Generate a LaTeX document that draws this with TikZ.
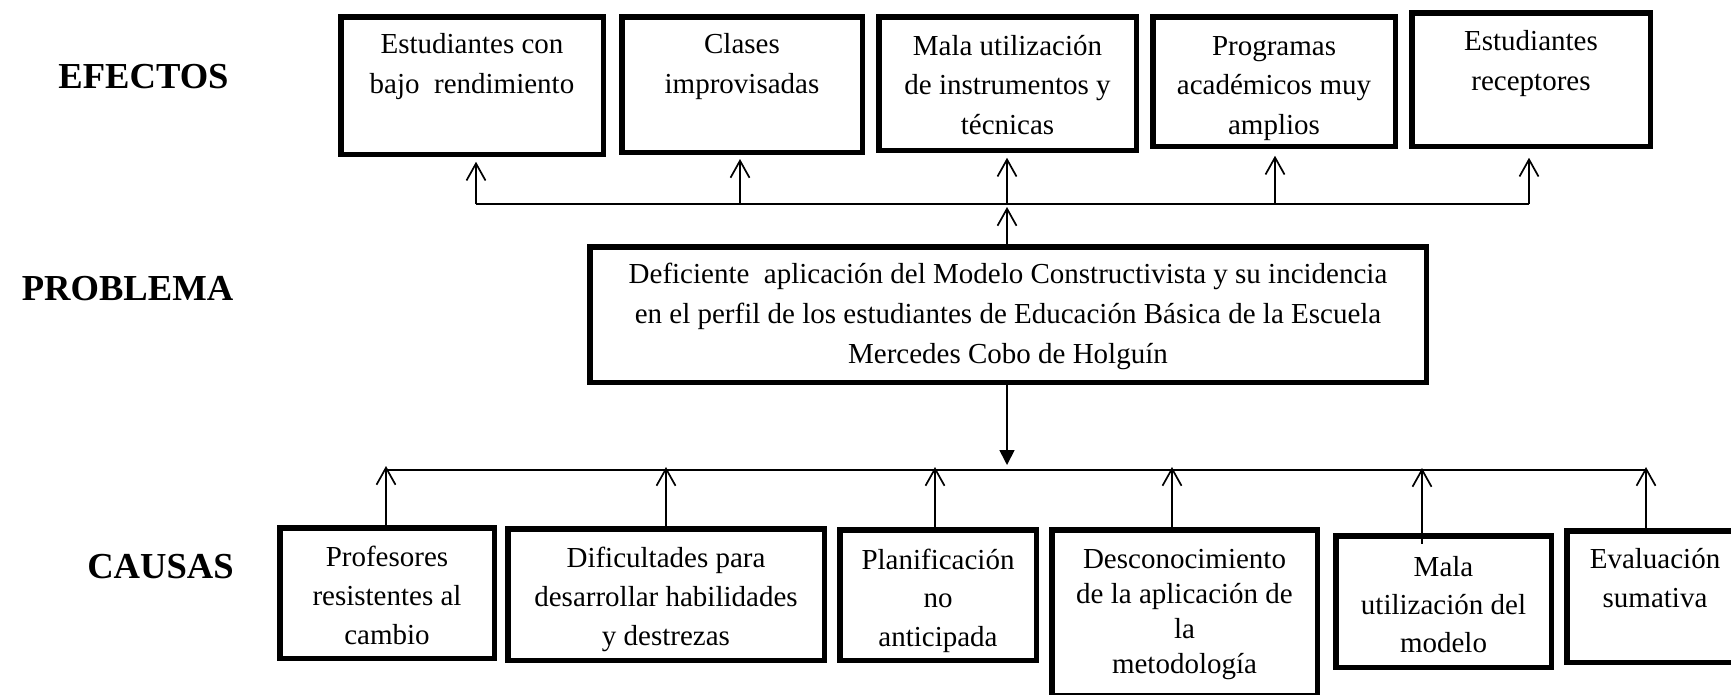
\documentclass[tikz,border=0pt]{standalone}
\usepackage{fontspec}
\setmainfont{Liberation Serif}
\usetikzlibrary{arrows.meta}
\newcommand{\boxtxt}[5]{\parbox[c][#2][t]{#1}{\centering\fontsize{29}{#4}\selectfont\rule{0pt}{#3}#5\par}}
\tikzset{
  box/.style={draw, line width=5.5pt, inner sep=0pt, rectangle},
  head/.style={font=\fontsize{36.6}{40}\selectfont\bfseries, anchor=base, inner sep=0pt},
  hline/.style={line width=2pt},
  uparrow/.style={line width=1.7pt, -{Straight Barb[length=17pt,width=19pt]}},
  downarrow/.style={line width=1.7pt, -{Triangle[length=15pt,width=15pt]}}
}
\begin{document}
\begin{tikzpicture}[x=1pt,y=-1pt]
\useasboundingbox (0,0) rectangle (1731,694);
\clip (0,0) rectangle (1731,694);
% headings
\node[head] (hE) at (143.5,88) {EFECTOS};
\node[head] (hP) at (127.5,300) {PROBLEMA};
\node[head] (hC) at (160.5,578) {CAUSAS};
% effects
\node[box] (E1) at (472,85.5) {\boxtxt{262.5pt}{137.5pt}{36.25pt}{40pt}{Estudiantes con\\bajo\ \ rendimiento}};
\node[box] (E2) at (742,84.5) {\boxtxt{240.5pt}{135.5pt}{36.25pt}{40pt}{Clases\\improvisadas}};
\node[box] (E3) at (1007.5,83.5) {\boxtxt{257.5pt}{133.5pt}{38.25pt}{39.5pt}{Mala utilización\\de instrumentos y\\técnicas}};
\node[box] (E4) at (1274,81.5) {\boxtxt{242.5pt}{129.5pt}{38.25pt}{39.5pt}{Programas\\académicos muy\\amplios}};
\node[box] (E5) at (1531,79.5) {\boxtxt{238.5pt}{133.5pt}{37.25pt}{40pt}{Estudiantes\\receptores}};
% problem
\node[box] (P) at (1008,314.5) {\boxtxt{836.5pt}{135.5pt}{36.25pt}{40pt}{Deficiente\ \ aplicación del Modelo Constructivista y su incidencia\\en el perfil de los estudiantes de Educación Básica de la Escuela\\Mercedes Cobo de Holguín}};
% causes
\node[box] (C1) at (387,593) {\boxtxt{214.5pt}{130.5pt}{38.25pt}{39pt}{Profesores\\resistentes al\\cambio}};
\node[box] (C2) at (666,594.5) {\boxtxt{316.5pt}{131.5pt}{38.25pt}{39pt}{Dificultades para\\desarrollar habilidades\\y destrezas}};
\node[box] (C3) at (938,595) {\boxtxt{196.5pt}{130.5pt}{39.25pt}{38.5pt}{Planificación\\no\\anticipada}};
\node[box] (C4) at (1184.5,612.5) {\boxtxt{265.5pt}{165.5pt}{38.25pt}{35pt}{Desconocimiento\\de la aplicación de\\la\\metodología}};
\node[box] (C5) at (1443.5,601.5) {\boxtxt{215.5pt}{131.5pt}{40.25pt}{38pt}{Mala\\utilización del\\modelo}};
\node[box] (C6) at (1655,596.5) {\boxtxt{176.5pt}{131.5pt}{37.25pt}{39pt}{Evaluación\\sumativa}};
% top distribution line
\coordinate (t1) at (476,204);
\coordinate (t2) at (740,204);
\coordinate (t3) at (1007,204);
\coordinate (t4) at (1275,204);
\coordinate (t5) at (1529,204);
\draw[hline] (t1) -- (t5);
\draw[uparrow, shorten >=4.75pt] (t1) -- (t1 |- E1.south);
\draw[uparrow, shorten >=4pt] (t2) -- (t2 |- E2.south);
\draw[uparrow, shorten >=4.75pt] (t3) -- (t3 |- E3.south);
\draw[uparrow, shorten >=6.75pt] (t4) -- (t4 |- E4.south);
\draw[uparrow, shorten >=8.75pt] (t5) -- (t5 |- E5.south);
\draw[uparrow, shorten >=3pt, shorten <=-2.75pt] (P.north -| t3) -- (t3);
% bottom distribution line
\coordinate (b1) at (386,470);
\coordinate (b2) at (666,470);
\coordinate (b3) at (935,470);
\coordinate (b4) at (1172,470);
\coordinate (b5) at (1422,470);
\coordinate (b6) at (1646,470);
\draw[hline] (b1) -- (b6);
\draw[downarrow, shorten >=5pt, shorten <=-2.75pt] (P.south -| t3) -- (t3 |- b1);
\draw[uparrow, shorten >=-4pt] (b1 |- C1.north) -- (b1);
\draw[uparrow, shorten >=-3pt, shorten <=-3.75pt] (b2 |- C2.north) -- (b2);
\draw[uparrow, shorten >=-3pt, shorten <=-4.75pt] (b3 |- C3.north) -- (b3);
\draw[uparrow, shorten >=-3pt, shorten <=-4.75pt] (b4 |- C4.north) -- (b4);
\draw[uparrow, shorten >=-2pt, shorten <=-10.75pt] (b5 |- C5.north) -- (b5);
\draw[uparrow, shorten >=-3pt, shorten <=-5.75pt] (b6 |- C6.north) -- (b6);
\end{tikzpicture}
\end{document}
